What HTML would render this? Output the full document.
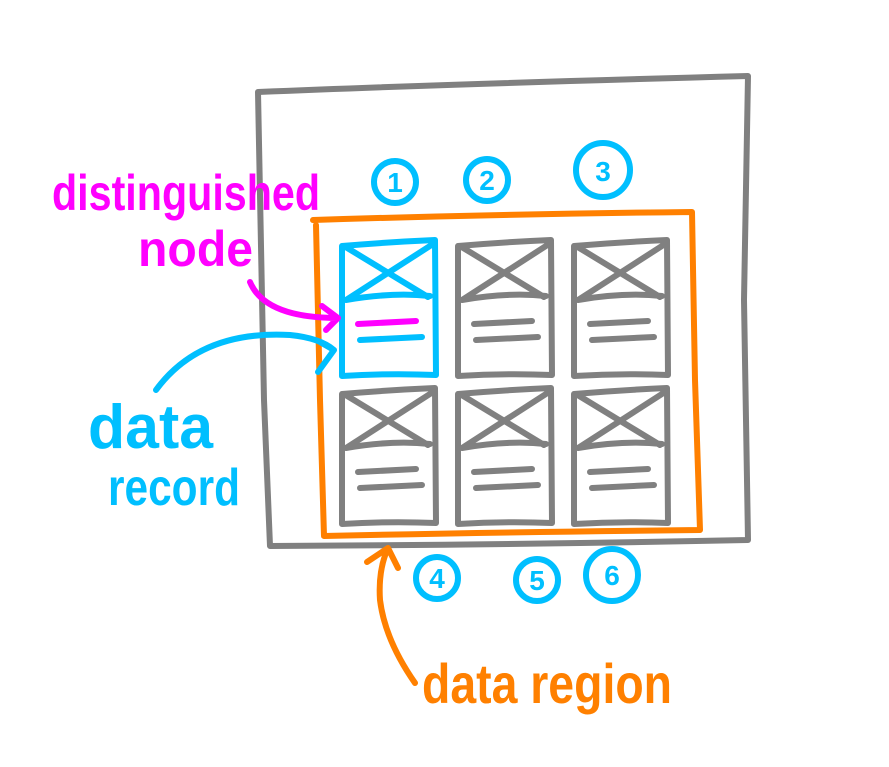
<!DOCTYPE html>
<html><head><meta charset="utf-8"><style>
html,body{margin:0;padding:0;background:#fff;width:889px;height:767px;overflow:hidden}
svg{display:block}
text{font-family:"Liberation Sans",sans-serif;font-weight:bold}
</style></head><body>
<svg width="889" height="767" viewBox="0 0 889 767" fill="none" stroke-linecap="round" stroke-linejoin="round">
<g stroke="#808080" stroke-width="6">
<path d="M258 92 Q450 84 748 76 L744 300 L748 540 Q500 545 270 546 L264 400 L258 92"/>
</g>
<g stroke="#ff8000" stroke-width="6">
<path d="M313 220 Q500 214 692 212 L695 380 L700 530 Q500 532 324 536 L320 400 L316 225"/>
</g>
<g id="cards"></g>
<g stroke="#00bfff" stroke-width="6">
<circle cx="395" cy="182" r="21"/><circle cx="487" cy="180" r="21"/><circle cx="603" cy="170" r="27"/>
<circle cx="437" cy="578" r="21"/><circle cx="537" cy="580" r="21"/><circle cx="612" cy="575" r="26"/>
</g>
<g fill="#00bfff" font-size="28" text-anchor="middle">
<text x="395" y="192">1</text><text x="487" y="190">2</text><text x="603" y="181">3</text>
<text x="437" y="588">4</text><text x="537" y="590">5</text><text x="612" y="585">6</text>
</g>
<text x="52" y="210" fill="#ff00ff" font-size="50" textLength="268" lengthAdjust="spacingAndGlyphs">distinguished</text>
<text x="138" y="266" fill="#ff00ff" font-size="50" textLength="115" lengthAdjust="spacingAndGlyphs">node</text>
<path d="M250 282 Q265 318 338 318 M322 306 L338 318 L326 330" stroke="#ff00ff" stroke-width="6"/>
<text x="88" y="448" fill="#00bfff" font-size="62" textLength="125" lengthAdjust="spacingAndGlyphs">data</text>
<text x="108" y="505" fill="#00bfff" font-size="52" textLength="132" lengthAdjust="spacingAndGlyphs">record</text>
<path d="M156 390 Q200 330 290 335 Q320 338 334 350 M320 342 L334 350 L318 372" stroke="#00bfff" stroke-width="6"/>
<text x="422" y="703" fill="#ff8000" font-size="56" textLength="250" lengthAdjust="spacingAndGlyphs">data region</text>
<path d="M415 683 Q385 640 380 600 Q378 570 388 548 M367 562 L388 548 L398 568" stroke="#ff8000" stroke-width="6"/>
</svg>
<script>
const cardX=[342,458,574];
const cardY=[242,390];
const g=document.getElementById('cards');
const NS='http://www.w3.org/2000/svg';
cardY.forEach((y,r)=>cardX.forEach((x,c)=>{
  const hl=(r===0&&c===0);
  const col=hl?'#00bfff':'#808080';
  const grp=document.createElementNS(NS,'g');
  
  
  grp.setAttribute('stroke',col);grp.setAttribute('stroke-width','6');
  const w=93,h=133;
  const d=`M${x} ${y+4} Q${x+47} ${y} ${x+w} ${y-2} L${x+w+1} ${y+h} Q${x+47} ${y+h-2} ${x} ${y+h+1} Z `+
    `M${x+2} ${y+4} L${x+86} ${y+55} M${x+w-2} ${y+2} L${x+4} ${y+58} M${x+4} ${y+58} Q${x+50} ${y+50} ${x+88} ${y+54}`;
  const p=document.createElementNS(NS,'path');p.setAttribute('d',d);grp.appendChild(p);
  const l1=document.createElementNS(NS,'path');
  l1.setAttribute('d',`M${x+16} ${y+82} L${x+74} ${y+79}`);
  if(hl)l1.setAttribute('stroke','#ff00ff');
  grp.appendChild(l1);
  const l2=document.createElementNS(NS,'path');
  l2.setAttribute('d',`M${x+18} ${y+98} L${x+80} ${y+95}`);grp.appendChild(l2);
  g.appendChild(grp);
}));
</script>
</body></html>
